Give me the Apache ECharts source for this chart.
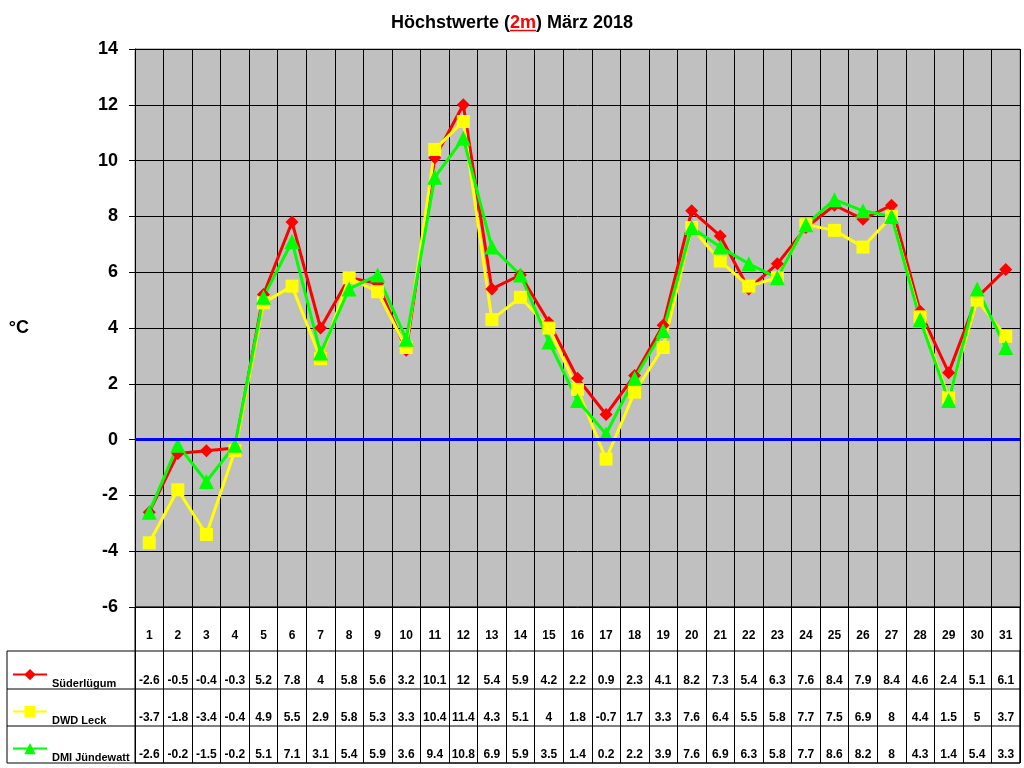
<!DOCTYPE html>
<html>
<head>
<meta charset="utf-8">
<script src="https://cdn.jsdelivr.net/npm/echarts@6/dist/echarts.min.js"></script>
<style>
  html, body { margin: 0; padding: 0; background: #fff; }
  #chart { width: 1024px; height: 768px; }
</style>
</head>
<body>
<div id="chart"></div>
<script>
// Tage im März
var days = ['1','2','3','4','5','6','7','8','9','10','11','12','13','14','15','16',
            '17','18','19','20','21','22','23','24','25','26','27','28','29','30','31'];

// Höchstwerte 2m in °C
var suederluegum = [-2.6,-0.5,-0.4,-0.3,5.2,7.8,4,5.8,5.6,3.2,10.1,12,5.4,5.9,4.2,2.2,
                    0.9,2.3,4.1,8.2,7.3,5.4,6.3,7.6,8.4,7.9,8.4,4.6,2.4,5.1,6.1];
var dwdLeck = [-3.7,-1.8,-3.4,-0.4,4.9,5.5,2.9,5.8,5.3,3.3,10.4,11.4,4.3,5.1,4,1.8,
               -0.7,1.7,3.3,7.6,6.4,5.5,5.8,7.7,7.5,6.9,8,4.4,1.5,5,3.7];
var dmiJuendewatt = [-2.6,-0.2,-1.5,-0.2,5.1,7.1,3.1,5.4,5.9,3.6,9.4,10.8,6.9,5.9,3.5,1.4,
                     0.2,2.2,3.9,7.6,6.9,6.3,5.8,7.7,8.6,8.2,8,4.3,1.4,5.4,3.3];

var seriesNames = ['Süderlügum', 'DWD Leck', 'DMI Jündewatt'];

var font = 'Arial, "Liberation Sans", sans-serif';

var myChart = echarts.init(document.getElementById('chart'));

// Zeilen der Datentabelle unter dem Diagramm (je eine Kategorienachse)
function tableRow(values, margin) {
    return {
        type: 'category',
        gridIndex: 0,
        position: 'bottom',
        boundaryGap: true,
        data: values.map(function (v) { return String(v); }),
        axisLine: { show: false },
        axisTick: { show: false },
        splitLine: { show: false },
        axisLabel: {
            interval: 0,
            margin: margin,
            color: '#000',
            fontFamily: font,
            fontWeight: 'bold',
            fontSize: 12
        }
    };
}

// Legendenschlüssel links in der Tabelle, je Zeile eine Legende
function tableKey(name, top) {
    return {
        orient: 'vertical',
        left: 12,
        top: top,
        padding: 0,
        itemWidth: 34,
        itemHeight: 14,
        selectedMode: false,
        formatter: '{n|{name}}',
        textStyle: {
            rich: {
                n: { fontFamily: font, fontWeight: 'bold', fontSize: 11, color: '#000',
                     lineHeight: 30, verticalAlign: 'bottom' }
            }
        },
        data: [name]
    };
}

var option = {
    backgroundColor: '#fff',
    animation: false,
    title: {
        text: '{a|Höchstwerte (}{r|2m}{a|) März 2018}',
        left: 'center',
        top: 9,
        textStyle: {
            rich: {
                a: { fontFamily: font, fontWeight: 'bold', fontSize: 18, color: '#000' },
                r: { fontFamily: font, fontWeight: 'bold', fontSize: 18, color: '#FF0000' }
            }
        }
    },
    legend: [
        tableKey(seriesNames[0], 669),
        tableKey(seriesNames[1], 706),
        tableKey(seriesNames[2], 743)
    ],
    grid: [
        {
            left: 135,
            right: 4,
            top: 49,
            bottom: 161,
            outerBoundsMode: 'none',
            show: true,
            backgroundColor: '#C0C0C0',
            borderColor: '#808080',
            borderWidth: 1
        },
        {
            // Spalten der Datentabelle
            left: 135,
            right: 4,
            top: 607,
            height: 156,
            outerBoundsMode: 'none',
            show: true,
            backgroundColor: 'transparent',
            borderColor: '#000',
            borderWidth: 1
        }
    ],
    xAxis: [
        {
            type: 'category',
            gridIndex: 0,
            data: days,
            boundaryGap: true,
            axisLine: { show: true, lineStyle: { color: '#000', width: 1 } },
            axisTick: { show: false },
            splitLine: { show: true, interval: 0, lineStyle: { color: '#000', width: 1 } },
            axisLabel: {
                interval: 0,
                margin: 23,
                color: '#000',
                fontFamily: font,
                fontWeight: 'bold',
                fontSize: 12
            }
        },
        tableRow(suederluegum, 68),
        tableRow(dwdLeck, 105),
        tableRow(dmiJuendewatt, 142),
        {
            type: 'category',
            gridIndex: 1,
            data: days,
            boundaryGap: true,
            axisLine: { show: false },
            axisTick: { show: false },
            axisLabel: { show: false },
            splitLine: { show: true, interval: 0, lineStyle: { color: '#000', width: 1 } }
        }
    ],
    yAxis: [
        {
            type: 'value',
            gridIndex: 0,
            min: -6,
            max: 14,
            interval: 2,
            name: '°C',
            nameLocation: 'middle',
            nameRotate: 0,
            nameGap: 106,
            nameTextStyle: { fontFamily: font, fontWeight: 'bold', fontSize: 18, color: '#000' },
            axisLine: { show: true, lineStyle: { color: '#000', width: 1 } },
            axisTick: { show: true, length: 6, lineStyle: { color: '#000' } },
            splitLine: { show: true, lineStyle: { color: '#000', width: 1 } },
            axisLabel: {
                margin: 17,
                color: '#000',
                fontFamily: font,
                fontWeight: 'bold',
                fontSize: 18
            }
        },
        {
            type: 'value',
            gridIndex: 1,
            show: false
        }
    ],
    series: [
        {
            name: seriesNames[0],
            type: 'line',
            data: suederluegum,
            symbol: 'diamond',
            symbolSize: 13,
            color: '#FF0000',
            lineStyle: { width: 3, color: '#FF0000' },
            itemStyle: { color: '#FF0000' },
            markLine: {
                silent: true,
                symbol: ['none', 'none'],
                label: { show: false },
                lineStyle: { color: '#0000FF', width: 3, type: 'solid' },
                data: [{ yAxis: 0 }]
            }
        },
        {
            name: seriesNames[1],
            type: 'line',
            data: dwdLeck,
            symbol: 'rect',
            symbolSize: 13,
            color: '#FFFF00',
            lineStyle: { width: 3, color: '#FFFF00' },
            itemStyle: { color: '#FFFF00' }
        },
        {
            name: seriesNames[2],
            type: 'line',
            data: dmiJuendewatt,
            symbol: 'triangle',
            symbolSize: 15,
            color: '#00FF00',
            lineStyle: { width: 3, color: '#00FF00' },
            itemStyle: { color: '#00FF00' }
        }
    ],
    // Rahmen der Datentabelle, Unterstreichung von "2m" im Titel
    graphic: [
        { type: 'rect', silent: true, shape: { x: 7, y: 651, width: 1013, height: 112 },
          style: { fill: 'none', stroke: '#000', lineWidth: 1 } },
        { type: 'line', silent: true, shape: { x1: 7, y1: 689, x2: 1020, y2: 689 },
          style: { stroke: '#000', lineWidth: 1 } },
        { type: 'line', silent: true, shape: { x1: 7, y1: 726, x2: 1020, y2: 726 },
          style: { stroke: '#000', lineWidth: 1 } },
        { type: 'line', silent: true, shape: { x1: 510, y1: 30.5, x2: 536, y2: 30.5 },
          style: { stroke: '#FF0000', lineWidth: 1.5 } }
    ]
};

myChart.setOption(option);
</script>
</body>
</html>
